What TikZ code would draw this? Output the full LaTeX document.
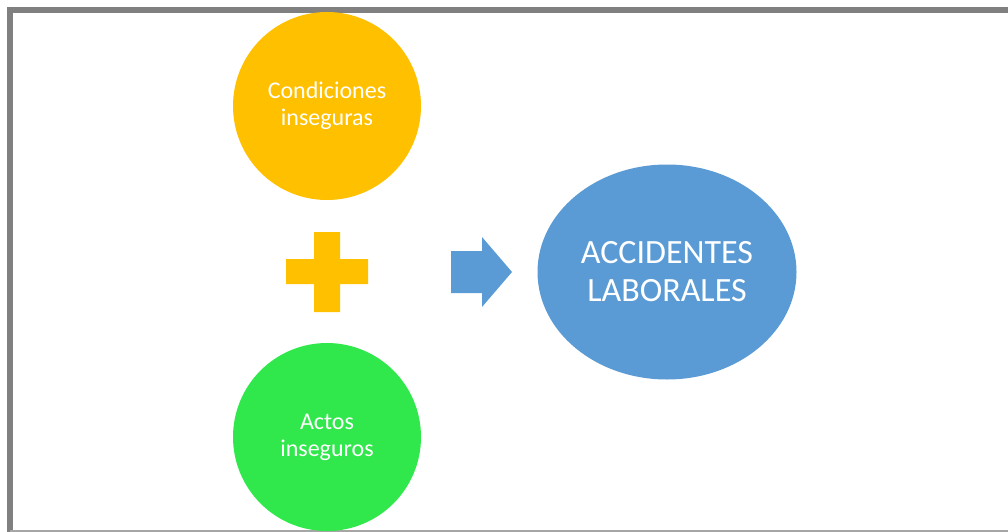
\documentclass[tikz,border=0pt]{standalone}
\usepackage{fontspec}
\setmainfont{Carlito}
\usetikzlibrary{positioning, shapes.geometric}

\definecolor{naranja}{HTML}{FFC000}
\definecolor{verde}{HTML}{30E84B}
\definecolor{azul}{HTML}{5B9BD5}
\definecolor{marco}{HTML}{808080}

\begin{document}
\begin{tikzpicture}[x=1pt, y=-1pt,
      causa/.style={circle, fill=#1, text=white, align=center, inner sep=0pt, minimum size=188pt, font=\fontsize{24}{27}\selectfont},
      efecto/.style={ellipse, fill=azul, text=white, align=center, inner sep=0pt, minimum width=259pt, minimum height=215pt, font=\fontsize{34}{38}\selectfont},
      signo/.style={fill=#1}
    ]
    \useasboundingbox (0,0) rectangle (1008,532);
    % marco
    \draw[marco, line width=6pt] (1010,10) -- (10,10) -- (10,534);
    \draw[marco!70, line width=2pt] (10,531) -- (1010,531);

    \node[causa=naranja] (condiciones) at (327,106) {Condiciones\\inseguras};
    \node[causa=verde] (actos) at (327,437) {Actos\\inseguros};
    \node[efecto] (accidentes) at (667,272) {ACCIDENTES\\LABORALES};

    % signo mas
    \fill[signo=naranja] (314,232) -- (340,232) -- (340,259) -- (368,259) -- (368,284) -- (340,284)
      -- (340,312) -- (314,312) -- (314,284) -- (286,284) -- (286,259) -- (314,259) -- cycle;
    % flecha
    \fill[signo=azul] (451,251) -- (482,251) -- (482,237) -- (512,272) -- (482,307) -- (482,293)
      -- (451,293) -- cycle;
  \end{tikzpicture}
\end{document}
